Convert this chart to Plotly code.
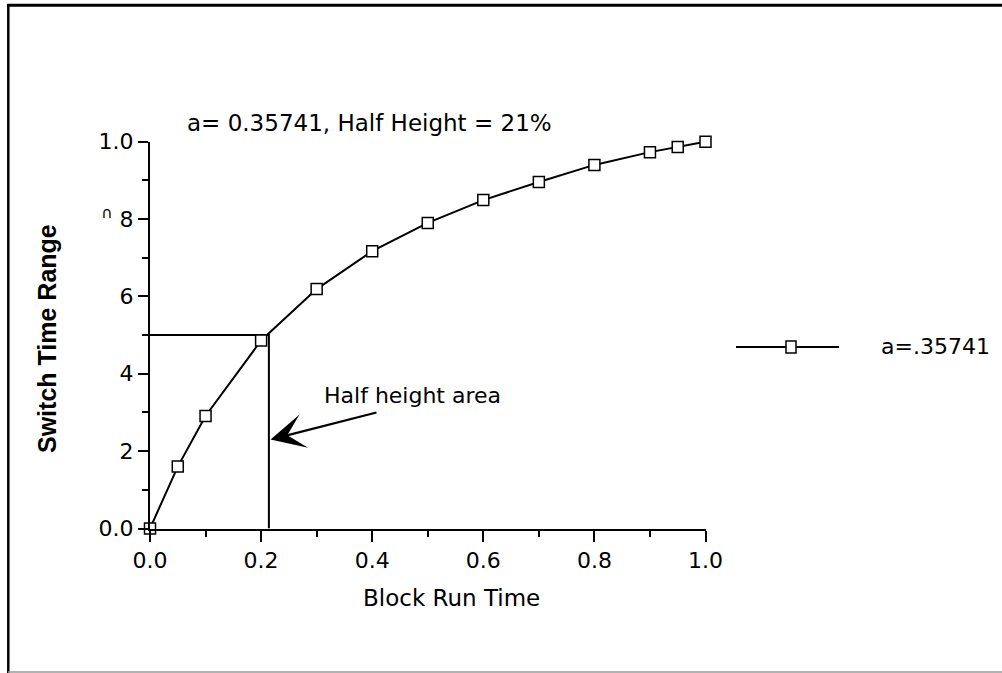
"""
Half-height chart: switch time range vs block run time (a = 0.35741).
"""
import plotly.graph_objects as go

# ── Data ─────────────────────────────────────────────────────
block_run_time = [0.0, 0.05, 0.1, 0.2, 0.3, 0.4, 0.5, 0.6, 0.7, 0.8, 0.9, 0.95, 1.0]
switch_time_range = [0.0, 0.160, 0.291, 0.486, 0.619, 0.717, 0.790, 0.849, 0.896,
                     0.940, 0.973, 0.986, 1.0]

half_x = 0.214
half_y = 0.5

x_tick_vals = [0.0, 0.2, 0.4, 0.6, 0.8, 1.0]
x_tick_text = ["0.0", "0.2", "0.4", "0.6", "0.8", "1.0"]
x_minor_vals = [0.1, 0.3, 0.5, 0.7, 0.9]

y_tick_vals = [0.0, 0.2, 0.4, 0.6, 0.8, 1.0]
y_tick_text = ["0.0", "2", "4", "6", "<sup>∩</sup> 8", "1.0"]
y_minor_vals = [0.1, 0.3, 0.5, 0.7, 0.9]

title_text = "a= 0.35741, Half Height = 21%"
legend_text = "a=.35741"
note_text = "Half height area"

FONT = "DejaVu Sans"
BLACK = "#000"

W, H = 1002, 673


def px(x):
    return x / W


def py(y):
    return 1 - y / H


fig = go.Figure()

# half-height box
fig.add_trace(go.Scatter(
    x=[0, half_x, half_x], y=[half_y, half_y, 0],
    mode="lines", line=dict(color=BLACK, width=2),
    hoverinfo="skip", cliponaxis=False,
))

# main curve
fig.add_trace(go.Scatter(
    x=block_run_time, y=switch_time_range,
    mode="lines+markers",
    line=dict(color=BLACK, width=2),
    marker=dict(symbol="square", size=11, color="white",
                line=dict(color=BLACK, width=1.5)),
    cliponaxis=False,
    name=legend_text,
))

axis_common = dict(
    range=[0, 1],
    showgrid=False, zeroline=False,
    showline=True, linecolor=BLACK, linewidth=2,
    ticks="outside", tickwidth=2, tickcolor=BLACK,
    tickmode="array",
    tickfont=dict(family=FONT, size=22, color=BLACK),
    automargin=False,
)

fig.update_layout(
    width=W, height=H,
    margin=dict(l=0, r=0, t=0, b=0),
    paper_bgcolor="white", plot_bgcolor="white",
    showlegend=False,
    xaxis=dict(
        axis_common,
        domain=[px(150), px(705.5)],
        tickvals=x_tick_vals, ticktext=x_tick_text, ticklen=11,
        minor=dict(tickvals=x_minor_vals, ticks="outside", ticklen=6,
                   tickwidth=2, tickcolor=BLACK),
    ),
    yaxis=dict(
        axis_common,
        domain=[py(528.5), py(141.7)],
        tickvals=y_tick_vals, ticktext=y_tick_text, ticklen=10,
        minor=dict(tickvals=y_minor_vals, ticks="outside", ticklen=6,
                   tickwidth=2, tickcolor=BLACK),
    ),
)

# ── Text ─────────────────────────────────────────────────────
fig.add_annotation(
    text=title_text, xref="paper", yref="paper", x=px(185), y=py(123),
    xanchor="left", yanchor="middle", showarrow=False,
    font=dict(family=FONT, size=23, color=BLACK),
)
fig.add_annotation(
    text="Block Run Time", xref="paper", yref="paper", x=px(451), y=py(598),
    xanchor="center", yanchor="middle", showarrow=False,
    font=dict(family=FONT, size=23, color=BLACK),
)
fig.add_annotation(
    text="Switch Time Range", xref="paper", yref="paper", x=px(47), y=py(339),
    xanchor="center", yanchor="middle", showarrow=False, textangle=-90,
    font=dict(family="Liberation Sans", size=25, color=BLACK, weight="bold"),
)
fig.add_annotation(
    text=note_text, xref="x", yref="y", x=0.4717, y=0.345,
    xanchor="center", yanchor="middle", showarrow=False,
    font=dict(family=FONT, size=22, color=BLACK),
)
fig.add_annotation(
    text="", xref="x", yref="y", x=half_x + 0.003, y=0.23,
    axref="x", ayref="y", ax=0.4104, ay=0.301,
    showarrow=True, arrowhead=3, arrowsize=2.6, arrowwidth=2.2,
    arrowcolor=BLACK,
)

# ── Legend (drawn by hand to get the long sample line) ───────
leg_y = py(347)
fig.add_shape(type="line", xref="paper", yref="paper",
              x0=px(736), x1=px(839), y0=leg_y, y1=leg_y,
              line=dict(color=BLACK, width=2))
fig.add_shape(type="rect", xref="paper", yref="paper",
              x0=px(786), x1=px(796), y0=py(353), y1=py(341),
              fillcolor="white", line=dict(color=BLACK, width=1.5))
fig.add_annotation(
    text=legend_text, xref="paper", yref="paper", x=px(879), y=leg_y,
    xanchor="left", yanchor="middle", showarrow=False,
    font=dict(family=FONT, size=22, color=BLACK),
)

# ── Page frame ──────────────────────────────────────────────
fig.add_shape(type="line", xref="paper", yref="paper",
              x0=px(7), x1=1, y0=py(5.3), y1=py(5.3),
              line=dict(color=BLACK, width=3))
fig.add_shape(type="line", xref="paper", yref="paper",
              x0=px(8.3), x1=px(8.3), y0=py(4), y1=0,
              line=dict(color=BLACK, width=2.5))
fig.add_shape(type="line", xref="paper", yref="paper",
              x0=px(8), x1=1, y0=py(672), y1=py(672),
              line=dict(color="#999", width=1.5))

# drop the default 8px page margin so the figure sits at the window corner
fig.write_html("out.html", config={"displayModeBar": False},
               post_script="document.body.style.margin='0';")
